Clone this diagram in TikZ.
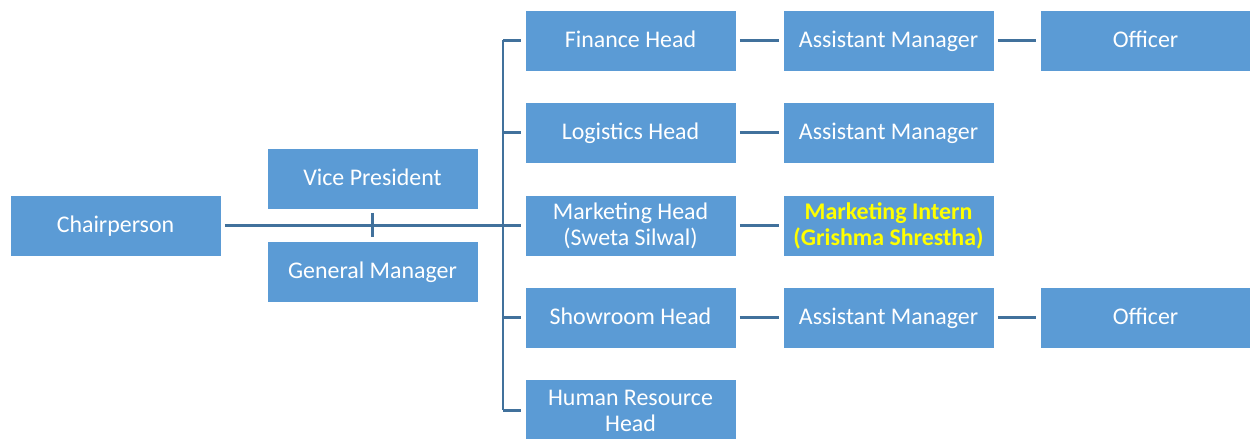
\documentclass[tikz,border=0pt]{standalone}
\usepackage{fontspec}
\setmainfont{Carlito}
\usepackage{tikz}
\usetikzlibrary{positioning, calc}
\definecolor{BoxBlue}{RGB}{91,155,213}
\definecolor{LineBlue}{RGB}{65,113,156}
\definecolor{InternYellow}{RGB}{255,255,0}

\tikzset{
    post/.style={rectangle, fill=BoxBlue, draw=white, line width=0.4pt, minimum width=4.22cm, minimum height=1.22cm,
        text=white, align=center, outer sep=2.2pt, font=\fontsize{13.6}{14.8}\selectfont},
    oneline/.style={post, text height=1.0em, text depth=0.22em},
    link/.style={LineBlue, line width=1.5pt}
}

\begin{document}
\begin{tikzpicture}
    \useasboundingbox (0,0) rectangle (25,8.78);
    \fill[white] (0,0) rectangle (25,8.78);

    % Nodos
    \node[oneline] (chair) at (2.31,4.27) {Chairperson};
    \node[oneline] (vp) at (7.45,5.21) {Vice President};
    \node[oneline] (gm) at (7.45,3.35) {General Manager};

    \node[oneline] (finance) at (12.61,7.97) {Finance Head};
    \node[oneline] (logistics) at (12.61,6.13) {Logistics Head};
    \node[post] (marketing) at (12.61,4.27) {Marketing Head\\(Sweta Silwal)};
    \node[oneline] (showroom) at (12.61,2.43) {Showroom Head};
    \node[post, minimum height=1.26cm] (hr) at (12.61,0.57) {Human Resource\\Head};

    \node[oneline] (finasst) at (17.77,7.97) {Assistant Manager};
    \node[oneline] (logasst) at (17.77,6.13) {Assistant Manager};
    \node[post, text=InternYellow, font=\fontsize{13.6}{14.8}\selectfont\bfseries] (intern) at (17.77,4.27) {Marketing Intern\\(Grishma Shrestha)};
    \node[oneline] (showasst) at (17.77,2.43) {Assistant Manager};

    \node[oneline] (finoff) at (22.91,7.97) {Officer};
    \node[oneline] (showoff) at (22.91,2.43) {Officer};

    \coordinate (bus) at (10.06,4.27);

    % Conexiones
    \draw[link] (chair.east) -- (marketing.west);
    \draw[link] (vp.south) -- (gm.north);
    \draw[link] (bus |- finance) -- (bus |- hr);
    \foreach \n in {finance, logistics, showroom, hr}
        \draw[link] (bus |- \n) -- (\n.west);

    \draw[link] (finance) -- (finasst);
    \draw[link] (finasst) -- (finoff);
    \draw[link] (logistics) -- (logasst);
    \draw[link] (marketing) -- (intern);
    \draw[link] (showroom) -- (showasst);
    \draw[link] (showasst) -- (showoff);
\end{tikzpicture}
\end{document}
